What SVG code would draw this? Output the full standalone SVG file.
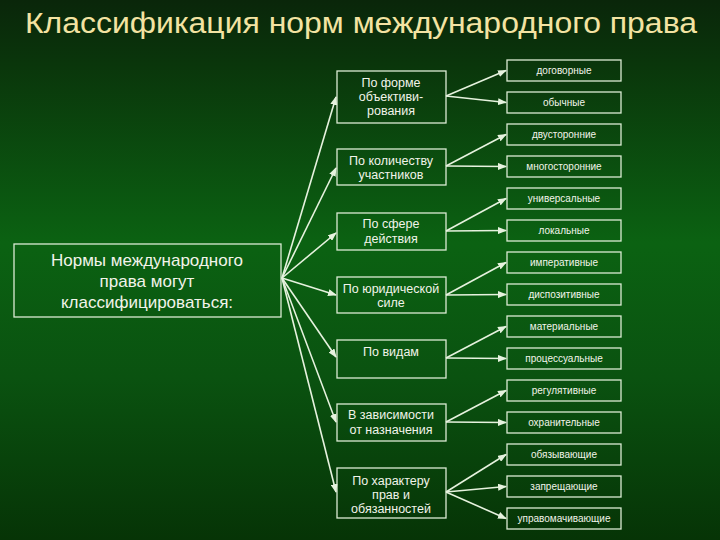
<svg xmlns="http://www.w3.org/2000/svg" width="720" height="540" viewBox="0 0 720 540">
  <defs>
    <linearGradient id="bg" x1="0" y1="0" x2="0" y2="1">
      <stop offset="0" stop-color="#0a260a"/>
      <stop offset="0.12" stop-color="#0a360b"/>
      <stop offset="0.45" stop-color="#0b6212"/>
      <stop offset="0.7" stop-color="#0a5210"/>
      <stop offset="1" stop-color="#063406"/>
    </linearGradient>
    <marker id="ah" markerUnits="userSpaceOnUse" markerWidth="9" markerHeight="7" refX="8" refY="3.5" orient="auto">
      <path d="M0,0 L9,3.5 L0,7 z" fill="#e6f2de"/>
    </marker>
    <style>
      .box { fill: none; stroke: #dcecd4; stroke-width: 1.3; }
      .t { font-family: "Liberation Sans", Arial, sans-serif; fill: #f2f4ea; text-anchor: middle; }
      .mid { font-size: 12.5px; }
      .rt { font-size: 10px; }
      .big { font-size: 17px; }
      .title { font-family: "Liberation Sans", Arial, sans-serif; font-size: 30px; fill: #f3e3a2; }
      .c line { stroke: #e6f2de; stroke-width: 1.6; marker-end: url(#ah); }
    </style>
  </defs>
  <rect width="720" height="540" fill="url(#bg)"/>
  <text class="title" x="25" y="33" textLength="672" lengthAdjust="spacingAndGlyphs">Классификация норм международного права</text>

  <g id="root">
    <rect class="box" x="14" y="244" width="267" height="73"/>
    <text class="t big" x="147" y="266">Нормы международного</text>
    <text class="t big" x="147" y="287">права могут</text>
    <text class="t big" x="147" y="308">классифицироваться:</text>
  </g>

  <g id="m1"><rect class="box" x="337" y="71" width="109" height="52"/>
    <text class="t mid" x="391" y="87">По форме</text>
    <text class="t mid" x="391" y="101">объективи-</text>
    <text class="t mid" x="391" y="115">рования</text></g>
  <g id="m2"><rect class="box" x="337" y="149" width="109" height="36"/>
    <text class="t mid" x="391" y="165">По количеству</text>
    <text class="t mid" x="391" y="179">участников</text></g>
  <g id="m3"><rect class="box" x="337" y="213" width="109" height="37"/>
    <text class="t mid" x="391" y="228">По сфере</text>
    <text class="t mid" x="391" y="243">действия</text></g>
  <g id="m4"><rect class="box" x="337" y="277" width="109" height="36"/>
    <text class="t mid" x="391" y="293">По юридической</text>
    <text class="t mid" x="391" y="307">силе</text></g>
  <g id="m5"><rect class="box" x="337" y="340" width="109" height="38"/>
    <text class="t mid" x="391" y="356">По видам</text></g>
  <g id="m6"><rect class="box" x="337" y="404" width="109" height="37"/>
    <text class="t mid" x="391" y="419">В зависимости</text>
    <text class="t mid" x="391" y="434">от назначения</text></g>
  <g id="m7"><rect class="box" x="337" y="468" width="109" height="50"/>
    <text class="t mid" x="391" y="485">По характеру</text>
    <text class="t mid" x="391" y="499">прав и</text>
    <text class="t mid" x="391" y="513">обязанностей</text></g>

  <g id="r1"><rect class="box" x="507" y="60" width="114" height="21"/><text class="t rt" x="564" y="74">договорные</text></g>
  <g id="r2"><rect class="box" x="507" y="92" width="114" height="21"/><text class="t rt" x="564" y="106">обычные</text></g>
  <g id="r3"><rect class="box" x="507" y="124" width="114" height="21"/><text class="t rt" x="564" y="138">двусторонние</text></g>
  <g id="r4"><rect class="box" x="507" y="156" width="114" height="21"/><text class="t rt" x="564" y="170">многосторонние</text></g>
  <g id="r5"><rect class="box" x="507" y="188" width="114" height="21"/><text class="t rt" x="564" y="202">универсальные</text></g>
  <g id="r6"><rect class="box" x="507" y="220" width="114" height="21"/><text class="t rt" x="564" y="234">локальные</text></g>
  <g id="r7"><rect class="box" x="507" y="252" width="114" height="21"/><text class="t rt" x="564" y="266">императивные</text></g>
  <g id="r8"><rect class="box" x="507" y="284" width="114" height="21"/><text class="t rt" x="564" y="298">диспозитивные</text></g>
  <g id="r9"><rect class="box" x="507" y="316" width="114" height="21"/><text class="t rt" x="564" y="330">материальные</text></g>
  <g id="r10"><rect class="box" x="507" y="348" width="114" height="21"/><text class="t rt" x="564" y="362">процессуальные</text></g>
  <g id="r11"><rect class="box" x="507" y="380" width="114" height="21"/><text class="t rt" x="564" y="394">регулятивные</text></g>
  <g id="r12"><rect class="box" x="507" y="412" width="114" height="21"/><text class="t rt" x="564" y="426">охранительные</text></g>
  <g id="r13"><rect class="box" x="507" y="444" width="114" height="21"/><text class="t rt" x="564" y="458">обязывающие</text></g>
  <g id="r14"><rect class="box" x="507" y="476" width="114" height="21"/><text class="t rt" x="564" y="490">запрещающие</text></g>
  <g id="r15"><rect class="box" x="507" y="508" width="114" height="21"/><text class="t rt" x="564" y="522">управомачивающие</text></g>

  <g id="connectors" class="c">
    <line x1="282" y1="278" x2="336" y2="97"/>
    <line x1="282" y1="278" x2="336" y2="168"/>
    <line x1="282" y1="278" x2="336" y2="233"/>
    <line x1="282" y1="278" x2="336" y2="295"/>
    <line x1="282" y1="278" x2="336" y2="357"/>
    <line x1="282" y1="278" x2="336" y2="422"/>
    <line x1="282" y1="278" x2="336" y2="492"/>

    <line x1="446" y1="96" x2="506" y2="70.5"/>
    <line x1="446" y1="96" x2="506" y2="102.5"/>
    <line x1="446" y1="166" x2="506" y2="134.5"/>
    <line x1="446" y1="166" x2="506" y2="166.5"/>
    <line x1="446" y1="231" x2="506" y2="198.5"/>
    <line x1="446" y1="231" x2="506" y2="230.5"/>
    <line x1="446" y1="295" x2="506" y2="262.5"/>
    <line x1="446" y1="295" x2="506" y2="294.5"/>
    <line x1="446" y1="358" x2="506" y2="326.5"/>
    <line x1="446" y1="358" x2="506" y2="358.5"/>
    <line x1="446" y1="422" x2="506" y2="390.5"/>
    <line x1="446" y1="422" x2="506" y2="422.5"/>
    <line x1="446" y1="492" x2="506" y2="454.5"/>
    <line x1="446" y1="492" x2="506" y2="486.5"/>
    <line x1="446" y1="492" x2="506" y2="518.5"/>
  </g>
</svg>
